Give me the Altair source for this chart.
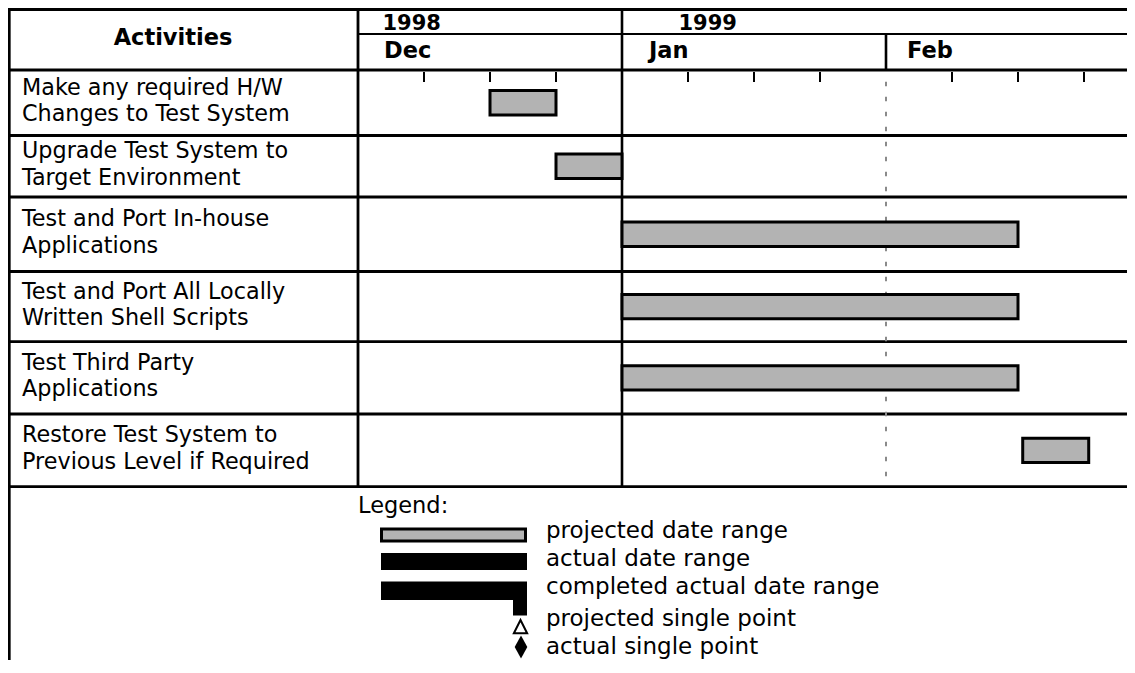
import altair as alt
import pandas as pd

# ---------------- chart values ----------------
activities = [
    "Make any required H/W\nChanges to Test System",
    "Upgrade Test System to\nTarget Environment",
    "Test and Port In-house\nApplications",
    "Test and Port All Locally\nWritten Shell Scripts",
    "Test Third Party\nApplications",
    "Restore Test System to\nPrevious Level if Required",
]
# projected date ranges, in days counted from the start of the Dec column
start_day = [14, 21, 28, 28, 28, 70.5]
end_day = [21, 28, 70, 70, 70, 77.5]

years = ["1998", "1999"]
year_start_day = [0, 28]
months = ["Dec", "Jan", "Feb"]
month_start_day = [0, 28, 56]
week_tick_day = [7, 14, 21, 35, 42, 49, 63, 70, 77]

header_title = "Activities"
legend_title = "Legend:"
legend_labels = [
    "projected date range",
    "actual date range",
    "completed actual date range",
    "projected single point",
    "actual single point",
]

# ---------------- layout (pixels) ----------------
W, H = 1119, 652
FONT = "DejaVu Sans"
FS = 22.5
LABEL_FS = 22.3
LABEL_LH = 26.5
LEGEND_FS = 23
X0 = 350.0             # left edge of the time grid
PX_PER_DAY = 66.0 / 7  # one week = 66 px
HEADER_BOTTOM = 62.0
ROW_H = [65.5, 61.5, 74.5, 70.2, 72.3, 72.7]
BAR_HALF = 12.2
GRID_W = 2.8
GRAY = "#b3b3b3"

edges = [HEADER_BOTTOM]
for h in ROW_H:
    edges.append(edges[-1] + h)
TABLE_BOTTOM = edges[-1]

xscale = alt.Scale(domain=[0, 84], range=[X0, X0 + 84 * PX_PER_DAY], nice=False, zero=False)


def X(field):
    return alt.X(field, type="quantitative", scale=xscale, axis=None)


def P(ch, field):
    return ch(field, type="quantitative", scale=None, axis=None)


# ---------------- data frames ----------------
rows = pd.DataFrame({
    "activity": activities,
    "start": start_day,
    "end": end_day,
    "top": edges[:-1],
    "bottom": edges[1:],
})
rows["mid"] = (rows["top"] + rows["bottom"]) / 2
rows["y1"] = rows["mid"] - BAR_HALF
rows["y2"] = rows["mid"] + BAR_HALF
rows["label_y"] = rows["mid"] - 8

hlines = pd.DataFrame(
    [(0, W, 1.5, 3.0), (X0, W, 26.0, 2.0), (0, W, HEADER_BOTTOM, 3.0)]
    + [(0, W, e, GRID_W) for e in edges[1:]],
    columns=["x1", "x2", "y", "w"],
)

month_df = pd.DataFrame({"month": months, "day": month_start_day})
# full-height dividers for Dec (column edge) and Jan, header-only for Feb
month_df["y1"] = [0.0, 0.0, 26.0]
month_df["y2"] = [TABLE_BOTTOM, TABLE_BOTTOM, HEADER_BOTTOM]
month_df["w"] = [GRID_W, 2.6, 2.6]

ticks = pd.DataFrame({"day": week_tick_day})
ticks["y1"] = HEADER_BOTTOM + 2
ticks["y2"] = HEADER_BOTTOM + 12

TXT = dict(font=FONT, baseline="alphabetic", color="black")

layers = []

# table frame
layers.append(
    alt.Chart(hlines).mark_rule(color="black").encode(
        x=P(alt.X, "x1"), x2="x2", y=P(alt.Y, "y"),
        strokeWidth=alt.StrokeWidth("w:Q", scale=None, legend=None),
    )
)
layers.append(
    alt.Chart(pd.DataFrame({"x": [1.3], "y1": [0.0], "y2": [float(H)]}))
    .mark_rule(color="black", strokeWidth=2.7)
    .encode(x=P(alt.X, "x"), y=P(alt.Y, "y1"), y2="y2")
)
layers.append(
    alt.Chart(month_df).mark_rule(color="black").encode(
        x=X("day"), y=P(alt.Y, "y1"), y2="y2",
        strokeWidth=alt.StrokeWidth("w:Q", scale=None, legend=None),
    )
)
layers.append(
    alt.Chart(month_df.iloc[[2]].assign(y1=HEADER_BOTTOM + 11.7, y2=TABLE_BOTTOM))
    .mark_rule(color="#8a8a8a", strokeWidth=2, strokeDash=[4.5, 10.5])
    .encode(x=X("day"), y=P(alt.Y, "y1"), y2="y2")
)
layers.append(
    alt.Chart(ticks).mark_rule(color="black", strokeWidth=2)
    .encode(x=X("day"), y=P(alt.Y, "y1"), y2="y2")
)

# header texts
layers.append(
    alt.Chart(pd.DataFrame({"t": [header_title], "x": [165.0], "y": [37.0]}))
    .mark_text(fontSize=FS, fontWeight="bold", align="center", **TXT)
    .encode(x=P(alt.X, "x"), y=P(alt.Y, "y"), text="t:N")
)
YEAR_DX = [24.5, 56.5]
for i, yr in enumerate(years):
    layers.append(
        alt.Chart(pd.DataFrame({"t": [yr], "day": [year_start_day[i]], "y": [21.5]}))
        .mark_text(fontSize=21, fontWeight="bold", align="left", dx=YEAR_DX[i], **TXT)
        .encode(x=X("day"), y=P(alt.Y, "y"), text="t:N")
    )
MONTH_DX = [26, 27, 21]
for i, m in enumerate(months):
    layers.append(
        alt.Chart(pd.DataFrame({"t": [m], "day": [month_start_day[i]], "y": [49.5]}))
        .mark_text(fontSize=FS, fontWeight="bold", align="left", dx=MONTH_DX[i], **TXT)
        .encode(x=X("day"), y=P(alt.Y, "y"), text="t:N")
    )

# activity labels
layers.append(
    alt.Chart(rows).mark_text(fontSize=LABEL_FS, lineHeight=LABEL_LH, lineBreak="\n",
                              align="left", **TXT)
    .encode(x=alt.value(14), y=P(alt.Y, "label_y"), text="activity:N")
)

# projected bars
layers.append(
    alt.Chart(rows).mark_rect(fill=GRAY, stroke="black", strokeWidth=3)
    .encode(x=X("start"), x2="end", y=P(alt.Y, "y1"), y2="y2")
)

# legend
layers.append(
    alt.Chart(pd.DataFrame({"t": [legend_title], "x": [350.0], "y": [505.3]}))
    .mark_text(fontSize=FS, align="left", **TXT)
    .encode(x=P(alt.X, "x"), y=P(alt.Y, "y"), text="t:N")
)
layers.append(
    alt.Chart(pd.DataFrame({"x1": [373.5], "x2": [517.5], "y1": [521.0], "y2": [533.0]}))
    .mark_rect(fill=GRAY, stroke="black", strokeWidth=3)
    .encode(x=P(alt.X, "x1"), x2="x2", y=P(alt.Y, "y1"), y2="y2")
)
layers.append(
    alt.Chart(pd.DataFrame({"x1": [373.0, 373.0, 505.0], "x2": [519.0, 519.0, 519.0],
                            "y1": [545.0, 573.5, 591.0], "y2": [562.0, 592.0, 607.5]}))
    .mark_rect(fill="black")
    .encode(x=P(alt.X, "x1"), x2="x2", y=P(alt.Y, "y1"), y2="y2")
)
layers.append(
    alt.Chart(pd.DataFrame({"x": [512.5], "y": [619.0]}))
    .mark_point(shape="M0,-1L0.95,0.9L-0.95,0.9Z", filled=False, color="black",
                strokeWidth=2, size=196, opacity=1)
    .encode(x=P(alt.X, "x"), y=P(alt.Y, "y"))
)
layers.append(
    alt.Chart(pd.DataFrame({"x": [513.0], "y": [639.0]}))
    .mark_point(shape="M0,-1L0.55,0L0,1L-0.55,0Z", filled=True, color="black",
                strokeWidth=0, size=529, opacity=1)
    .encode(x=P(alt.X, "x"), y=P(alt.Y, "y"))
)
layers.append(
    alt.Chart(pd.DataFrame({"t": legend_labels, "y": [530.0, 558.0, 586.0, 618.0, 646.0]}))
    .mark_text(fontSize=LEGEND_FS, align="left", **TXT)
    .encode(x=alt.value(538), y=P(alt.Y, "y"), text="t:N")
)

chart = (
    alt.layer(*layers)
    .properties(width=W, height=H, padding=0, autosize=alt.AutoSizeParams(type="none"))
    .configure_view(stroke=None)
)

chart.save("out.html", embed_options={"renderer": "svg", "actions": False})
